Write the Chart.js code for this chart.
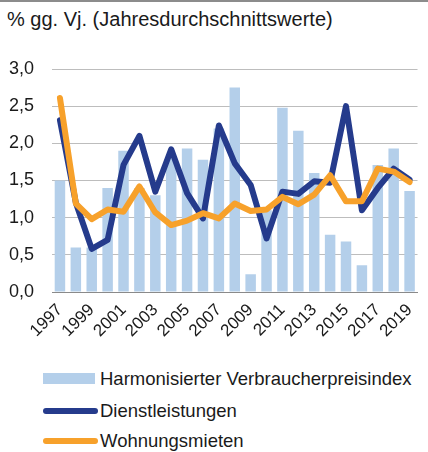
<!DOCTYPE html>
<html>
<head>
<meta charset="utf-8">
<script src="https://cdn.jsdelivr.net/npm/chart.js@4"></script>
<style>
  html, body { margin: 0; padding: 0; width: 428px; height: 452px; overflow: hidden; background: #fff; }
  body { position: relative; font-family: "Liberation Sans", Arial, sans-serif; color: #1a1a1a; }
  #topline { position: absolute; left: 0; top: 0; width: 428px; height: 2px; background: #8c8c8c; }
  #title { position: absolute; left: 7px; top: 7px; font-size: 20px; line-height: 24px; white-space: nowrap; }
  #chartbox { position: absolute; left: 0; top: 0; width: 432px; height: 350px; }
  #legend { position: absolute; left: 0; top: 366px; width: 428px; }
  .item { position: absolute; left: 0; height: 26px; width: 428px; }
  .item .key { position: absolute; left: 43px; }
  .item .txt { position: absolute; left: 100px; top: 0; font-size: 18.5px; line-height: 26px; white-space: nowrap; }
</style>
</head>
<body>
<div id="topline"></div>
<div id="title">% gg. Vj. (Jahresdurchschnittswerte)</div>
<div id="chartbox"><canvas id="myChart" width="432" height="350"></canvas></div>
<div id="legend"></div>
<script>
  /* Daten */
  var years = ["1997", "1998", "1999", "2000", "2001", "2002", "2003", "2004", "2005", "2006", "2007", "2008",
    "2009", "2010", "2011", "2012", "2013", "2014", "2015", "2016", "2017", "2018", "2019"];
  var hicp = [1.5, 0.6, 0.6, 1.4, 1.9, 1.4, 1.3, 1.8, 1.93, 1.78, 2.2, 2.75,
    0.24, 1.1, 2.48, 2.17, 1.6, 0.77, 0.68, 0.36, 1.71, 1.93, 1.36];
  var services = [2.31, 1.2, 0.58, 0.7, 1.71, 2.1, 1.35, 1.92, 1.33, 0.99, 2.24, 1.73,
    1.44, 0.72, 1.35, 1.32, 1.49, 1.47, 2.5, 1.1, 1.4, 1.66, 1.51];
  var rents = [2.61, 1.19, 0.98, 1.11, 1.08, 1.42, 1.07, 0.9, 0.96, 1.06, 0.99, 1.19,
    1.09, 1.11, 1.28, 1.18, 1.31, 1.57, 1.22, 1.22, 1.66, 1.62, 1.48];
  var yTicks = [0, 0.5, 1, 1.5, 2, 2.5, 3];

  var seriesNames = ["Harmonisierter Verbraucherpreisindex", "Dienstleistungen", "Wohnungsmieten"];
  var colors = ["#b4cfea", "#253b8c", "#f7a12b"];

  var ctx = document.getElementById("myChart");
  var chart = new Chart(ctx, {
    type: "bar",
    data: {
      labels: years,
      datasets: [
        {
          type: "line",
          label: seriesNames[2],
          data: rents,
          borderColor: colors[2],
          borderWidth: 6,
          borderCapStyle: "round",
          borderJoinStyle: "round",
          pointRadius: 0,
          tension: 0,
          order: 0,
        },
        {
          type: "line",
          label: seriesNames[1],
          data: services,
          borderColor: colors[1],
          borderWidth: 6,
          borderCapStyle: "round",
          borderJoinStyle: "round",
          pointRadius: 0,
          tension: 0,
          order: 1,
        },
        {
          type: "bar",
          label: seriesNames[0],
          data: hicp,
          backgroundColor: colors[0],
          categoryPercentage: 1,
          barPercentage: 0.66,
          order: 2,
        },
      ],
    },
    options: {
      responsive: false,
      animation: false,
      layout: { padding: { top: 69, right: 0, bottom: 0, left: 0 } },
      plugins: { legend: { display: false }, tooltip: { enabled: false } },
      scales: {
        x: {
          grid: { display: false, drawTicks: false },
          border: { display: true, color: "#8a8a8a", width: 1 },
          ticks: {
            autoSkip: false,
            minRotation: 45,
            maxRotation: 45,
            padding: 8,
            color: "#1a1a1a",
            font: { family: "'Liberation Sans', Arial", size: 17 },
            callback: function (v, i) { return i % 2 === 0 ? years[i] : ""; },
          },
          afterFit: function (s) { s.height = 58; },
        },
        y: {
          min: 0,
          max: 3,
          afterBuildTicks: function (s) { s.ticks = yTicks.map(function (v) { return { value: v }; }); },
          grid: { color: "#bdbdbd", lineWidth: 1, drawTicks: false },
          border: { display: false },
          ticks: {
            padding: 18,
            color: "#1a1a1a",
            font: { family: "'Liberation Sans', Arial", size: 18 },
            callback: function (v) { return v.toFixed(1).replace(".", ","); },
          },
          afterFit: function (s) { s.width = 52; },
        },
      },
    },
  });

  // Legende
  var legend = document.getElementById("legend");
  var tops = [0, 32, 62];
  chart.data.datasets.slice().reverse().forEach(function (ds, i) {
    var item = document.createElement("div");
    item.className = "item";
    item.style.top = tops[i] + "px";
    var key = document.createElement("div");
    key.className = "key";
    if (ds.type === "bar") {
      key.style.cssText = "top:7px;width:52px;height:11px;background:" + ds.backgroundColor + ";";
    } else {
      key.style.cssText = "top:10px;width:55px;height:6px;border-radius:3px;background:" + ds.borderColor + ";";
    }
    var txt = document.createElement("div");
    txt.className = "txt";
    txt.textContent = ds.label;
    item.appendChild(key);
    item.appendChild(txt);
    legend.appendChild(item);
  });
</script>
</body>
</html>
